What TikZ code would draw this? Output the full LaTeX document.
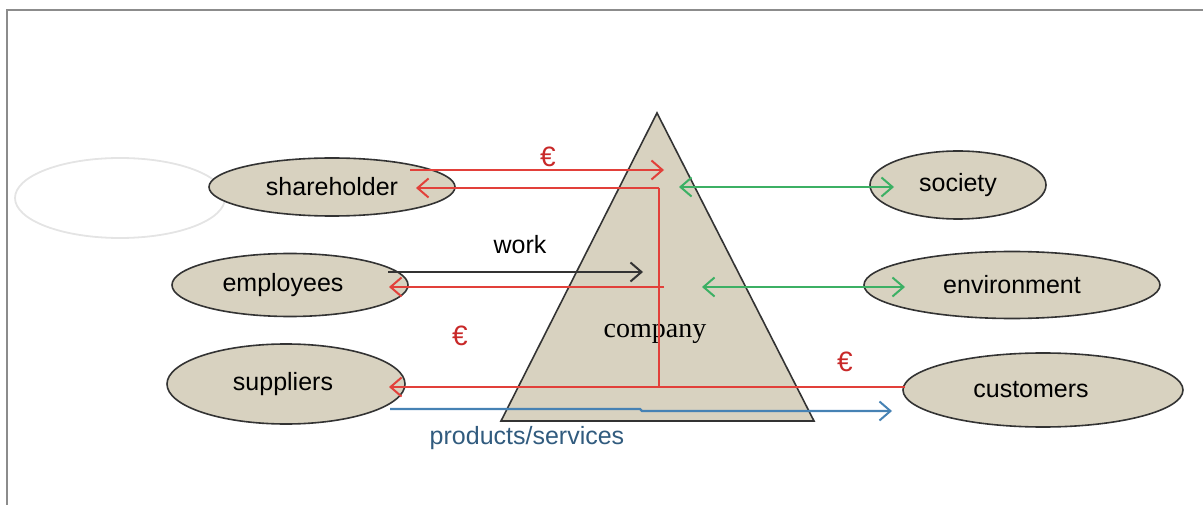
\documentclass[tikz,border=0pt]{standalone}
\usepackage{fontspec}
\setmainfont{Liberation Sans}
\newfontfamily\serifcompany{Liberation Serif}
\usetikzlibrary{shapes.geometric,arrows.meta}
\definecolor{tan}{RGB}{216,210,192}
\definecolor{myred}{RGB}{226,64,58}
\definecolor{eurored}{RGB}{200,40,40}
\definecolor{mygreen}{RGB}{60,176,100}
\definecolor{myblue}{RGB}{70,130,180}
\definecolor{framegray}{RGB}{140,140,140}
\definecolor{ghost}{RGB}{228,228,228}
\tikzset{
  party/.style={ellipse, draw=black!80, line width=1.6pt, fill=tan, inner sep=0pt, font=\fontsize{25}{29}\selectfont},
  tip/.style={-{Straight Barb[length=11pt,width=19pt,line width=2pt]}},
  both/.style={{Straight Barb[length=11pt,width=19pt,line width=2pt]}-{Straight Barb[length=11pt,width=19pt,line width=2pt]}},
  money/.style={myred, line width=2.2pt},
  lbl/.style={font=\fontsize{25}{29}\selectfont, inner sep=0pt},
  euro/.style={text=eurored, font=\fontsize{28}{32}\selectfont, inner sep=0pt}
}
\begin{document}
\begin{tikzpicture}[x=1pt,y=-1pt]
\useasboundingbox (0,0) rectangle (1203,505);
% frame
\draw[framegray, line width=2pt] (6,10) -- (1203,10);
\draw[framegray, line width=2pt] (7,10) -- (7,505);
% ghost ellipse
\node[ellipse, draw=ghost, line width=1.8pt, minimum width=210pt, minimum height=80pt] (ghost) at (120,198) {};
% triangle
\coordinate (apex) at (657,113);
\coordinate (bl) at (501,421);
\coordinate (br) at (814,421);
\draw[fill=tan, draw=black!80, line width=1.6pt] (apex) -- (bl) -- (br) -- cycle;
\node[font=\serifcompany\fontsize{28}{32}\selectfont, inner sep=0pt] (company) at (655,334) {company};
% parties
\node[party, minimum width=246pt, minimum height=58pt] (sh) at (332,187) {shareholder};
\node[party, minimum width=236pt, minimum height=63pt] (emp) at (290,285) {\hspace*{-14pt}employees};
\node[party, minimum width=238pt, minimum height=80pt] (sup) at (286,384) {\hspace*{-6pt}suppliers};
\node[party, minimum width=176pt, minimum height=68pt] (soc) at (958,185) {society};
\node[party, minimum width=296pt, minimum height=67pt] (env) at (1012,285) {environment};
\node[party, minimum width=280pt, minimum height=74pt] (cus) at (1043,390) {\hspace*{-24pt}customers};
% coordinates for connectors
\coordinate (shOut) at (410,170);
\coordinate (coIn) at (664,170);
\coordinate (shIn) at (416,188);
\coordinate (vTop) at (659,188);
\coordinate (vBot) at (659,387);
\coordinate (empEnd) at (664,287);
\coordinate (empIn) at (389,287);
\coordinate (supIn) at (389,387);
\coordinate (cusOut) at (905,387);
\coordinate (workS) at (388,272);
\coordinate (workE) at (643,272);
\coordinate (gsA) at (679,187);
\coordinate (gsB) at (894,187);
\coordinate (geA) at (702,287);
\coordinate (geB) at (905,287);
\coordinate (pS) at (390,409);
\coordinate (pStep) at (640,409);
\coordinate (pStep2) at (642,411);
\coordinate (pE) at (892,411);
% money flows
\draw[money, tip] (shOut) -- (coIn);
\draw[money, tip] (vTop) -- (shIn);
\draw[money] (vTop) -- (vBot);
\draw[money, tip] (empEnd) -- (empIn);
\draw[money, tip] (cusOut) -- (supIn);
% work
\draw[black!80, line width=2.2pt, tip] (workS) -- (workE);
% green
\draw[mygreen, line width=2.2pt, both] (gsA) -- (gsB);
\draw[mygreen, line width=2.2pt, both] (geA) -- (geB);
% products
\draw[myblue, line width=2.2pt, tip] (pS) -- (pStep) -- (pStep2) -- (pE);
% labels
\node[euro] (e1) at (548,157) {€};
\node[euro] (e2) at (460,336) {€};
\node[euro] (e3) at (845,362) {€};
\node[lbl] (work) at (520,245) {work};
\node[lbl, text=myblue!70!black] (ps) at (527,438) {products/services};
\end{tikzpicture}
\end{document}
